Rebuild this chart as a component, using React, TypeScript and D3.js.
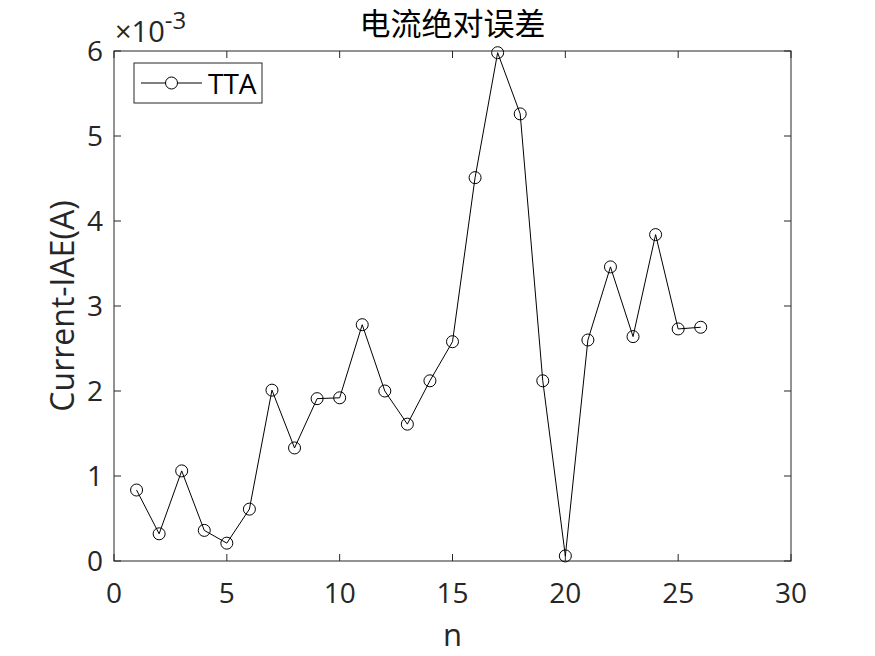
import React from "react";
import * as d3 from "d3";

const xValues = [1,2,3,4,5,6,7,8,9,10,11,12,13,14,15,16,17,18,19,20,21,22,23,24,25,26];
const yValues = [0.835,0.32,1.06,0.36,0.21,0.61,2.01,1.33,1.91,1.92,2.78,2.0,1.61,2.12,2.58,4.51,5.98,5.26,2.12,0.06,2.6,3.46,2.64,3.84,2.73,2.75];
const xTicks = [0,5,10,15,20,25,30];
const yTicks = [0,1,2,3,4,5,6];
const title = "电流绝对误差";
const xLabel = "n";
const yLabel = "Current-IAE(A)";
const seriesName = "TTA";

const W = 875, H = 656;
const L = 114, R = 791, T = 51, B = 561;
const font = "'Open Sans', 'Noto Sans CJK SC', sans-serif";

export default function App() {
  const x = d3.scaleLinear().domain([0, 30]).range([L, R]);
  const y = d3.scaleLinear().domain([0, 6]).range([B, T]);
  const line = d3.line<number>().x((_, i) => x(xValues[i])).y((d) => y(d));
  const tl = 7;
  return (
    <svg width={W} height={H} style={{ position: "absolute", left: 0, top: 0, background: "#fff" }}>
      <rect x={0} y={0} width={W} height={H} fill="#fff" />
      <rect x={L} y={T} width={R - L} height={B - T} fill="none" stroke="#262626" strokeWidth={1} />
      {xTicks.map((t) => (
        <g key={"x" + t}>
          <line x1={x(t)} x2={x(t)} y1={B} y2={B - tl} stroke="#262626" />
          <line x1={x(t)} x2={x(t)} y1={T} y2={T + tl} stroke="#262626" />
          <text x={x(t)} y={603} textAnchor="middle" fontSize={28} fill="#262626" fontFamily={font}>{t}</text>
        </g>
      ))}
      {yTicks.map((t) => (
        <g key={"y" + t}>
          <line x1={L} x2={L + tl} y1={y(t)} y2={y(t)} stroke="#262626" />
          <line x1={R} x2={R - tl} y1={y(t)} y2={y(t)} stroke="#262626" />
          <text x={L - 11} y={y(t) + 10} textAnchor="end" fontSize={28} fill="#262626" fontFamily={font}>{t}</text>
        </g>
      ))}
      <text x={115} y={42} fontSize={29} fill="#262626" fontFamily={font}>
        ×10<tspan dy={-13} fontSize={24}>-3</tspan>
      </text>
      <text x={(L + R) / 2} y={35} textAnchor="middle" fontSize={31} fill="#000" fontFamily={font}>{title}</text>
      <text x={(L + R) / 2} y={646} textAnchor="middle" fontSize={31} fill="#262626" fontFamily={font}>{xLabel}</text>
      <text transform={`translate(74,${(T + B) / 2}) rotate(-90)`} textAnchor="middle" fontSize={32} fill="#262626" fontFamily={font}>{yLabel}</text>
      <path d={line(yValues) || ""} fill="none" stroke="#000" strokeWidth={1} />
      {yValues.map((v, i) => (
        <circle key={i} cx={x(xValues[i])} cy={y(v)} r={6} fill="none" stroke="#000" strokeWidth={1} />
      ))}
      <g>
        <rect x={134} y={63} width={128} height={40} fill="#fff" stroke="#262626" strokeWidth={1} />
        <line x1={141} x2={202} y1={83} y2={83} stroke="#000" />
        <circle cx={171.5} cy={83} r={6} fill="#fff" stroke="#000" />
        <text x={208} y={94} fontSize={28} fill="#000" fontFamily={font}>{seriesName}</text>
      </g>
    </svg>
  );
}
